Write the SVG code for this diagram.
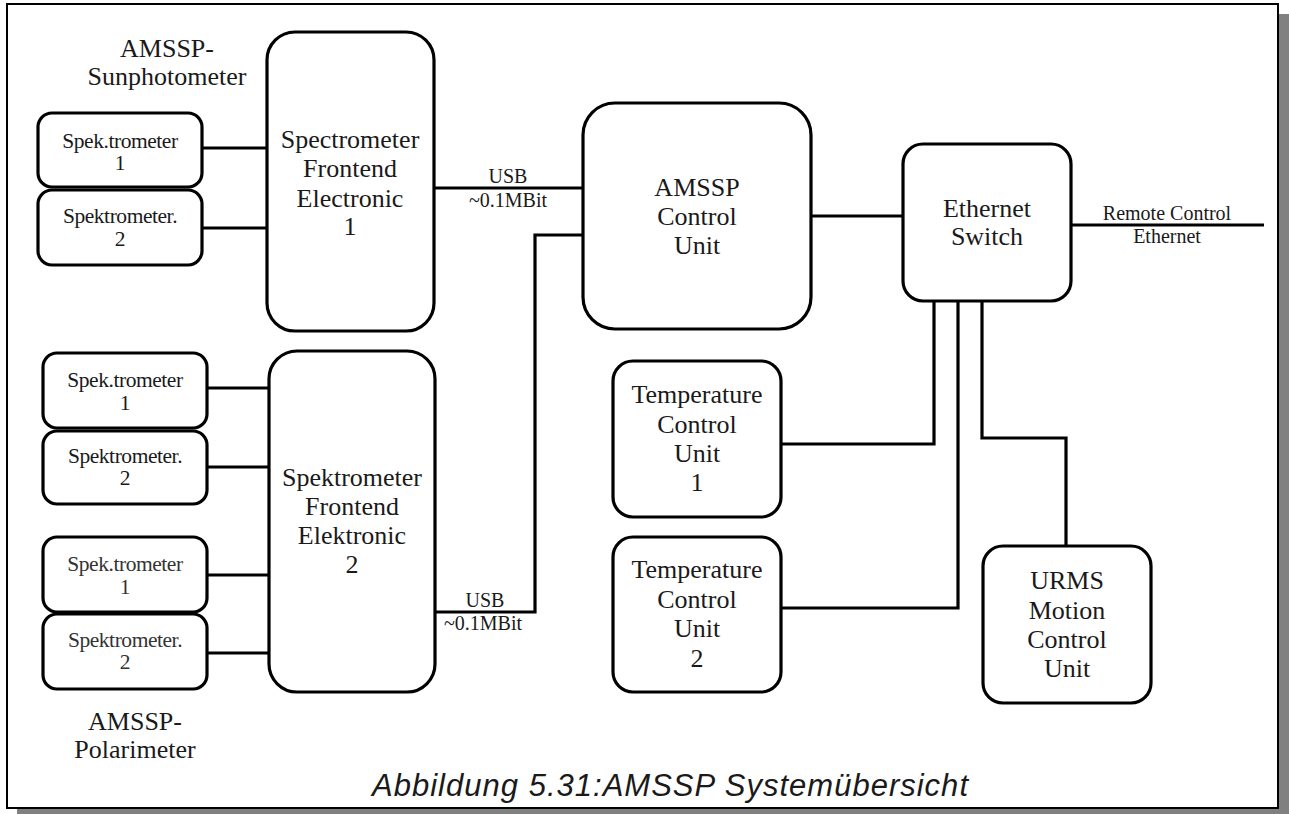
<svg xmlns="http://www.w3.org/2000/svg" width="1289" height="814" viewBox="0 0 1289 814">
<style>
.box{fill:#fff;stroke:#000;stroke-width:3.2}
.ln{fill:none;stroke:#000;stroke-width:3.2}
.t{font-family:"Liberation Serif",serif;fill:#1a1a1a;text-anchor:middle}
.big{font-size:26px}
.sm{font-size:21.5px;letter-spacing:-0.45px}
.lbl{font-size:20px}
.lt{fill:#333}
.cap{font-family:"Liberation Sans",sans-serif;font-style:italic;font-size:31px;fill:#1a1a1a;text-anchor:middle}
</style>
<rect x="0" y="0" width="1289" height="814" fill="#fff"/>
<rect x="17" y="14" width="1272" height="800" fill="#808080"/>
<rect x="7" y="4" width="1271" height="804" fill="#fff" stroke="#000" stroke-width="2"/>

<g id="connectors">
<path class="ln" d="M202 148H267M202 228H267"/>
<path class="ln" d="M207 388H272M207 467H272M207 575H272M207 653H272"/>
<path class="ln" d="M434 188H583"/>
<path class="ln" d="M583 235H535V612H435"/>
<path class="ln" d="M811 216H904"/>
<path class="ln" d="M1071 225H1264"/>
<path class="ln" d="M934 301V444H781"/>
<path class="ln" d="M958 301V608H781"/>
<path class="ln" d="M982 301V438H1066V546"/>
<text class="t lbl" x="508" y="183">USB</text>
<text class="t lbl" x="508" y="207">~0.1MBit</text>
<text class="t lbl" x="485" y="607">USB</text>
<text class="t lbl" x="483" y="630">~0.1MBit</text>
<text class="t lbl" x="1167" y="220">Remote Control</text>
<text class="t lbl" x="1167" y="243">Ethernet</text>
</g>

<g id="label-sun">
<text class="t big" x="167" y="57">AMSSP-</text>
<text class="t big" x="167" y="85">Sunphotometer</text>
</g>
<g id="label-pol">
<text class="t big" x="135" y="730">AMSSP-</text>
<text class="t big" x="135" y="758">Polarimeter</text>
</g>

<g id="sun-spek1">
<rect class="box" x="38" y="113" width="164" height="74" rx="14"/>
<text class="t sm" x="120" y="148">Spek.trometer</text>
<text class="t sm" x="120" y="170">1</text>
</g>
<g id="sun-spek2">
<rect class="box" x="38" y="190" width="164" height="75" rx="14"/>
<text class="t sm" x="120" y="223">Spektrometer.</text>
<text class="t sm" x="120" y="246">2</text>
</g>

<g id="pol-spek1">
<rect class="box" x="43" y="353" width="164" height="75" rx="14"/>
<text class="t sm" x="125" y="387">Spek.trometer</text>
<text class="t sm" x="125" y="410">1</text>
</g>
<g id="pol-spek2">
<rect class="box" x="43" y="431" width="164" height="73" rx="14"/>
<text class="t sm" x="125" y="463">Spektrometer.</text>
<text class="t sm" x="125" y="485">2</text>
</g>
<g id="pol-spek3">
<rect class="box" x="43" y="537" width="164" height="75" rx="14"/>
<text class="t sm lt" x="125" y="571">Spek.trometer</text>
<text class="t sm lt" x="125" y="594">1</text>
</g>
<g id="pol-spek4">
<rect class="box" x="43" y="614" width="164" height="75" rx="14"/>
<text class="t sm lt" x="125" y="647">Spektrometer.</text>
<text class="t sm lt" x="125" y="669">2</text>
</g>

<g id="frontend1">
<rect class="box" x="267" y="32" width="167" height="299" rx="28"/>
<text class="t big" x="350" y="148">Spectrometer</text>
<text class="t big" x="350" y="177">Frontend</text>
<text class="t big" x="350" y="207">Electronic</text>
<text class="t big" x="350" y="235">1</text>
</g>
<g id="frontend2">
<rect class="box" x="269" y="351" width="166" height="341" rx="28"/>
<text class="t big" x="352" y="486">Spektrometer</text>
<text class="t big" x="352" y="515">Frontend</text>
<text class="t big" x="352" y="544">Elektronic</text>
<text class="t big" x="352" y="573">2</text>
</g>

<g id="control-unit">
<rect class="box" x="583" y="103" width="228" height="226" rx="32"/>
<text class="t big" x="697" y="196">AMSSP</text>
<text class="t big" x="697" y="225">Control</text>
<text class="t big" x="697" y="254">Unit</text>
</g>

<g id="ethernet-switch">
<rect class="box" x="903" y="144" width="168" height="157" rx="20"/>
<text class="t big" x="987" y="217">Ethernet</text>
<text class="t big" x="987" y="245">Switch</text>
</g>

<g id="temp1">
<rect class="box" x="613" y="361" width="168" height="156" rx="20"/>
<text class="t big" x="697" y="403">Temperature</text>
<text class="t big" x="697" y="433">Control</text>
<text class="t big" x="697" y="462">Unit</text>
<text class="t big" x="697" y="491">1</text>
</g>
<g id="temp2">
<rect class="box" x="613" y="537" width="168" height="155" rx="20"/>
<text class="t big" x="697" y="578">Temperature</text>
<text class="t big" x="697" y="608">Control</text>
<text class="t big" x="697" y="637">Unit</text>
<text class="t big" x="697" y="667">2</text>
</g>

<g id="urms">
<rect class="box" x="983" y="546" width="168" height="157" rx="20"/>
<text class="t big" x="1067" y="589">URMS</text>
<text class="t big" x="1067" y="619">Motion</text>
<text class="t big" x="1067" y="648">Control</text>
<text class="t big" x="1067" y="677">Unit</text>
</g>

<text class="cap" x="670" y="796" textLength="596" lengthAdjust="spacing">Abbildung 5.31:AMSSP Systemübersicht</text>
</svg>
